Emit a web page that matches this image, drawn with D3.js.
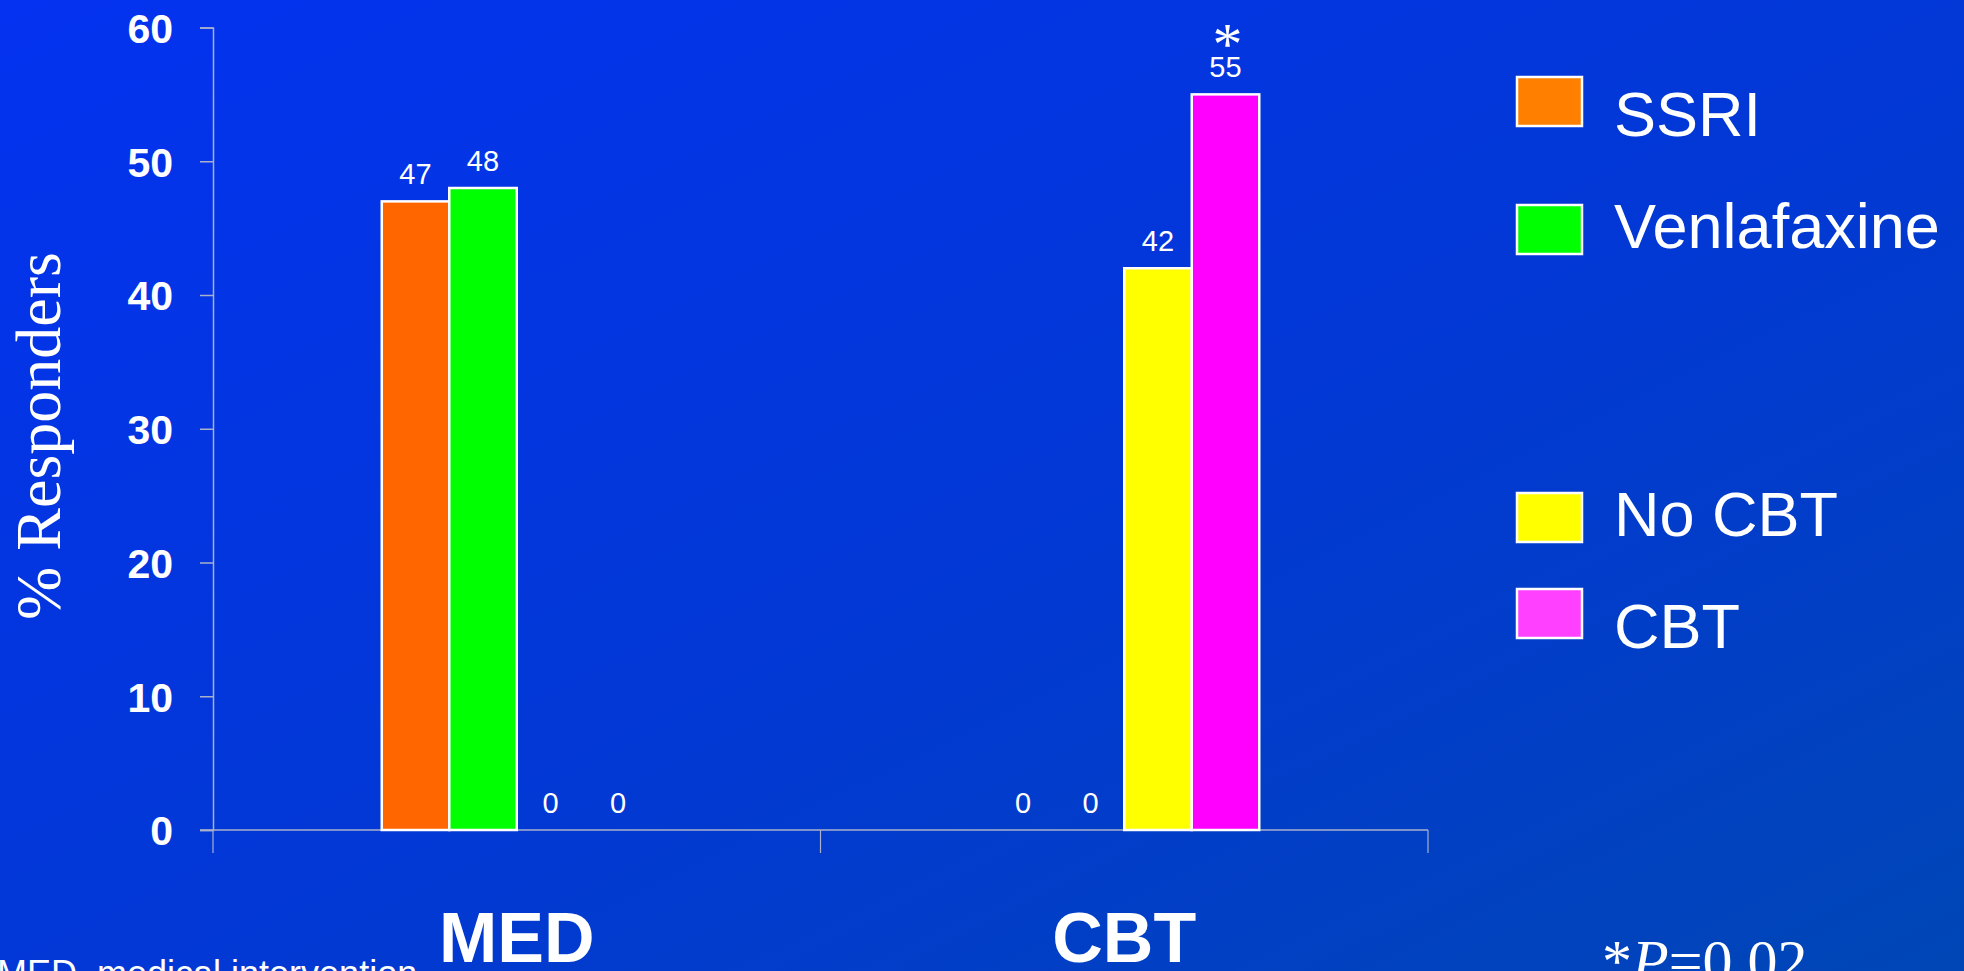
<!DOCTYPE html>
<html>
<head>
<meta charset="utf-8">
<script src="https://cdn.jsdelivr.net/npm/d3@7"></script>
<style>
  html, body { margin: 0; padding: 0; overflow: hidden; background: #0338e0; }
  svg { display: block; }
</style>
</head>
<body>
<svg id="chart" width="1964" height="971"></svg>
<script>
// Response rates by intervention arm
const categories = ["MED", "CBT"];
const seriesNames = ["SSRI", "Venlafaxine", "No CBT", "CBT"];
const ssriValues = [47, 0];
const venlafaxineValues = [48, 0];
const noCbtValues = [0, 42];
const cbtValues = [0, 55];
const yTicks = [0, 10, 20, 30, 40, 50, 60];
const barColors = ["#FF6600", "#00FF00", "#FFFF00", "#FF00FF"];
const legendColors = ["#FF8000", "#00FF00", "#FFFF00", "#FF40FF"];
const significant = { category: "CBT", series: "CBT" };

const seriesValues = [ssriValues, venlafaxineValues, noCbtValues, cbtValues];
const rows = [];
categories.forEach((c, ci) => {
  seriesNames.forEach((s, si) => {
    rows.push({
      category: c, series: s, value: seriesValues[si][ci], color: barColors[si],
      sig: c === significant.category && s === significant.series
    });
  });
});

const W = 1964, H = 971;
const svg = d3.select("#chart");
const sans = "'Liberation Sans', Arial, Helvetica, sans-serif";
const serif = "'Liberation Serif', 'Times New Roman', Times, serif";

// background gradient
const defs = svg.append("defs");
const grad = defs.append("linearGradient").attr("id", "bg")
  .attr("x1", "0%").attr("y1", "0%").attr("x2", "100%").attr("y2", "100%");
grad.append("stop").attr("offset", "0%").attr("stop-color", "#0432F0");
grad.append("stop").attr("offset", "55%").attr("stop-color", "#0238D4");
grad.append("stop").attr("offset", "100%").attr("stop-color", "#0046B6");
svg.append("rect").attr("width", W).attr("height", H).attr("fill", "url(#bg)");

// scales
const x0 = d3.scaleBand().domain(categories).range([213, 1428]).paddingInner(0).paddingOuter(0);
const x1 = d3.scaleBand().domain(seriesNames).range([0, x0.bandwidth()]).paddingInner(0).paddingOuter(2.5);
const y = d3.scaleLinear().domain([0, 60]).range([830, 27.5]);

const axisColor = "#A8B0CC";

// y axis
const yAxis = svg.append("g").attr("transform", `translate(${x0.range()[0]},0)`)
  .call(d3.axisLeft(y).tickValues(yTicks).tickSize(13).tickPadding(27).tickFormat(d3.format("d")));
yAxis.select(".domain").attr("stroke", axisColor).attr("stroke-width", 1.5);
yAxis.selectAll(".tick line").attr("stroke", axisColor).attr("stroke-width", 1.5);
yAxis.selectAll(".tick text")
  .attr("fill", "#FFFFFF")
  .attr("font-family", sans)
  .attr("font-weight", "bold")
  .attr("font-size", 41)
  .attr("dy", "0.36em");

// x axis: baseline with ticks at category boundaries
const xAxisG = svg.append("g");
xAxisG.append("line")
  .attr("x1", x0.range()[0] - 13).attr("x2", x0.range()[1])
  .attr("y1", y(0)).attr("y2", y(0))
  .attr("stroke", axisColor).attr("stroke-width", 1.5);
const boundaries = categories.map(c => x0(c)).concat([x0.range()[1]]);
xAxisG.selectAll("line.bound").data(boundaries).join("line")
  .attr("class", "bound")
  .attr("x1", d => d).attr("x2", d => d)
  .attr("y1", y(0)).attr("y2", y(0) + 23)
  .attr("stroke", axisColor).attr("stroke-width", 1.2);

// bars
const barG = svg.append("g");
barG.selectAll("rect").data(rows.filter(d => d.value > 0)).join("rect")
  .attr("x", d => x0(d.category) + x1(d.series))
  .attr("y", d => y(d.value))
  .attr("width", x1.bandwidth())
  .attr("height", d => y(0) - y(d.value))
  .attr("fill", d => d.color)
  .attr("stroke", "#FFFFFF")
  .attr("stroke-width", 2.5);

// value labels (significant bar carries an asterisk above its value)
const valLabels = barG.selectAll("text.val").data(rows).join("text")
  .attr("class", "val")
  .attr("text-anchor", "middle")
  .attr("fill", "#FFFFFF")
  .attr("font-family", sans)
  .attr("font-size", 29);
valLabels.each(function (d) {
  const t = d3.select(this);
  const cx = x0(d.category) + x1(d.series) + x1.bandwidth() / 2;
  const by = y(d.value) - 17;
  if (d.sig) {
    t.append("tspan")
      .attr("x", cx + 2).attr("y", by - 13)
      .attr("font-family", serif).attr("font-size", 60)
      .text("*");
  }
  t.append("tspan").attr("x", cx).attr("y", by).text(d3.format("d")(d.value));
});

// category labels
svg.selectAll("text.cat").data(categories).join("text")
  .attr("class", "cat")
  .attr("x", d => x0(d) + x0.bandwidth() / 2)
  .attr("y", 962)
  .attr("text-anchor", "middle")
  .attr("fill", "#FFFFFF")
  .attr("font-family", sans)
  .attr("font-weight", "bold")
  .attr("font-size", 70)
  .text(d => d);

// y axis title
svg.append("text")
  .attr("transform", "translate(60,436) rotate(-90)")
  .attr("text-anchor", "middle")
  .attr("fill", "#FFFFFF")
  .attr("font-family", serif)
  .attr("font-size", 64)
  .text("% Responders");

// legend: two groups of two entries
const legend = svg.append("g");
const legendItems = seriesNames.map((s, i) => ({ name: s, color: legendColors[i], i }));
const baseline = i => (i < 2 ? 136 + 112 * i : 536 + 112 * (i - 2));
const swatchRise = i => (i === 0 || i === 3 ? 59 : 43);
legend.selectAll("rect").data(legendItems).join("rect")
  .attr("x", 1517).attr("y", d => baseline(d.i) - swatchRise(d.i))
  .attr("width", 65).attr("height", 49)
  .attr("fill", d => d.color)
  .attr("stroke", "#FFFFFF").attr("stroke-width", 2.5);
legend.selectAll("text").data(legendItems).join("text")
  .attr("x", 1614).attr("y", d => baseline(d.i))
  .attr("fill", "#FFFFFF")
  .attr("font-family", sans)
  .attr("font-size", 63)
  .text(d => d.name);

// footnotes
svg.append("text")
  .attr("x", -3).attr("y", 986)
  .attr("fill", "#FFFFFF")
  .attr("font-family", sans)
  .attr("font-size", 36)
  .text("MED, medical intervention");

const pText = svg.append("text")
  .attr("x", 1602).attr("y", 981)
  .attr("fill", "#FFFFFF")
  .attr("font-family", serif)
  .attr("font-size", 60);
pText.append("tspan").text("*");
pText.append("tspan").attr("font-style", "italic").text("P");
pText.append("tspan").text("=0.02");
</script>
</body>
</html>
